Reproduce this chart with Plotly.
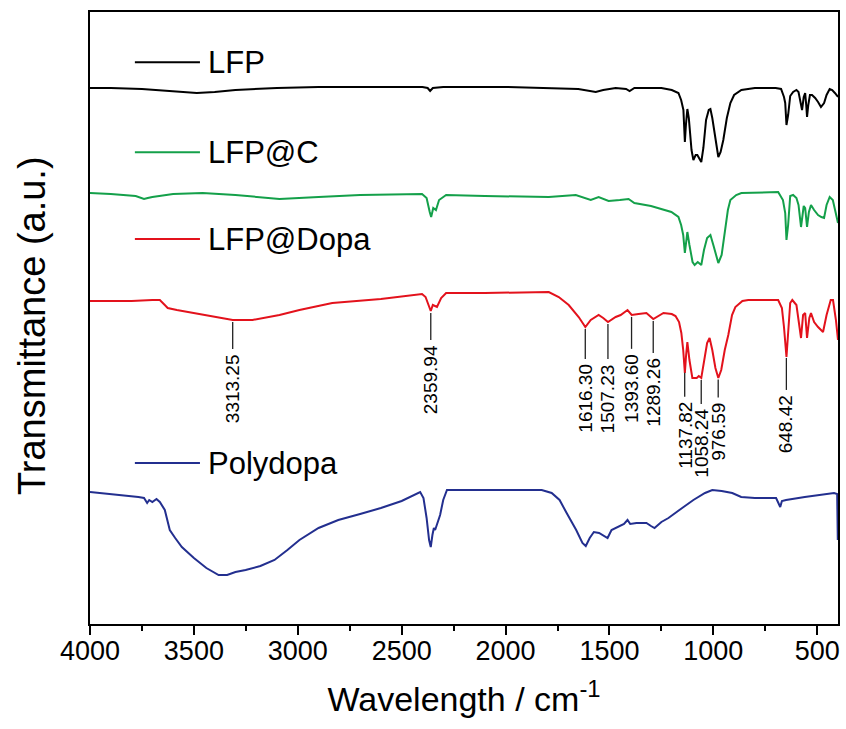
import numpy as np
import plotly.graph_objects as go

# ---------------- data ----------------
LFP_WN = [4000, 3900, 3750, 3600, 3486, 3400, 3300, 3100, 2900, 2600, 2400, 2375, 2363, 2350, 2300,
          2000, 1800, 1650, 1566, 1530, 1470, 1420, 1403, 1380, 1250, 1200, 1168, 1155, 1144, 1137,
          1132, 1125, 1118, 1105, 1096, 1085, 1077, 1065, 1058, 1048, 1035, 1022, 1014, 1005, 990,
          976, 965, 952, 935, 918, 900, 865, 800, 700, 674, 660, 654, 648, 640, 630, 616, 600, 590,
          580, 573, 565, 558, 553, 549, 543, 535, 525, 510, 496, 482, 467, 455, 440, 428, 415, 400]
LFP_T = [536, 536, 535, 533, 531, 532, 534, 536, 537, 537, 537, 536, 533, 536, 537,
         537, 536, 535, 532, 534, 536, 535, 533, 536, 536, 534, 531, 524, 514, 482,
         499, 515, 506, 474, 464, 469, 469, 464, 462, 476, 504, 514, 515, 506, 487,
         467, 472, 484, 506, 521, 529, 534, 536, 536, 535, 527, 521, 499, 509, 528, 532, 534, 532,
         519, 514, 527, 531, 519, 507, 519, 529, 529, 526, 522, 517, 521, 529, 535, 534, 531, 527]

LFPC_WN = [4000, 3900, 3780, 3740, 3722, 3700, 3600, 3458, 3300, 3088, 2900, 2700, 2402, 2380, 2365,
           2358, 2348, 2335, 2320, 2286, 2100, 1900, 1792, 1662, 1620, 1590, 1552, 1504, 1450, 1408,
           1380, 1300, 1202, 1168, 1155, 1145, 1137, 1130, 1125, 1115, 1100, 1090, 1075, 1058, 1045,
           1030, 1014, 1000, 985, 976, 960, 945, 930, 918, 890, 865, 750, 688, 665, 654, 648, 640,
           630, 616, 600, 590, 578, 565, 558, 549, 540, 530, 515, 496, 480, 467, 455, 440, 425, 410, 400]
LFPC_T = [431, 430, 428, 425, 426, 427, 430, 431, 429, 425, 427, 429, 430, 426, 412,
          407, 416, 414, 424, 429, 428, 427, 427, 429, 426, 424, 427, 423, 424, 425,
          421, 418, 412, 407, 399, 389, 371, 384, 392, 379, 362, 359, 362, 359, 374,
          386, 389, 379, 366, 361, 369, 394, 414, 424, 429, 431, 432, 432, 424, 411, 384, 399,
          428, 429, 426, 419, 397, 418, 416, 397, 412, 419, 414, 409, 407, 406, 419, 427, 424, 412, 401]

DOPA_WN = [4000, 3800, 3700, 3664, 3640, 3626, 3582, 3450, 3342, 3313, 3218, 3088, 2992, 2834, 2600,
           2402, 2385, 2370, 2360, 2350, 2330, 2310, 2286, 2100, 1900, 1792, 1744, 1696, 1648, 1616,
           1590, 1552, 1530, 1507, 1470, 1446, 1413, 1393, 1360, 1322, 1289, 1260, 1240, 1200, 1182,
           1165, 1154, 1145, 1137, 1131, 1125, 1115, 1101, 1080, 1070, 1058, 1045, 1030, 1018, 1005,
           990, 976, 962, 945, 928, 910, 894, 860, 832, 750, 688, 670, 660, 648, 640, 630, 620, 600,
           590, 578, 568, 558, 549, 538, 530, 515, 496, 482, 472, 455, 435, 424, 410, 400]
DOPA_T = [323, 323, 324, 324, 319, 316, 314, 309, 305, 304, 304, 309, 314, 321, 325,
          330, 327, 318, 313, 319, 317, 326, 331, 331, 332, 332, 327, 319, 307, 297,
          304, 309, 306, 302, 307, 309, 314, 309, 310, 311, 305, 309, 311, 310, 308,
          302, 291, 274, 251, 269, 282, 264, 246, 246, 248, 246, 264, 281, 286, 274,
          256, 246, 254, 274, 289, 309, 317, 323, 324, 324, 324, 316, 297, 267, 294, 321, 324, 319,
          304, 286, 309, 311, 286, 306, 311, 302, 297, 294, 292, 309, 324, 324, 304, 284]

PDA_WN = [4000, 3900, 3800, 3767, 3740, 3725, 3715, 3700, 3680, 3664, 3640, 3616, 3590, 3558, 3500,
          3440, 3381, 3340, 3300, 3251, 3180, 3112, 3050, 2992, 2900, 2805, 2700, 2600, 2500, 2411,
          2395, 2380, 2368, 2360, 2352, 2345, 2339, 2328, 2315, 2300, 2282, 2100, 1900, 1826, 1778,
          1740, 1706, 1660, 1630, 1614, 1595, 1575, 1550, 1509, 1490, 1460, 1430, 1413, 1400, 1370,
          1322, 1300, 1283, 1250, 1216, 1150, 1096, 1040, 1005, 960, 909, 866, 800, 698, 678, 670,
          650, 560, 480, 419, 404, 401]
PDA_T = [132, 130, 128, 127, 126, 121, 124, 122, 125, 122, 114, 94, 86, 77, 66,
         56, 49, 49, 52, 54, 58, 64, 74, 84, 96, 104, 110, 116, 123, 132,
         126, 106, 84, 77, 89, 96, 94, 102, 109, 124, 134, 134, 134, 134, 131,
         124, 111, 94, 81, 78, 86, 92, 91, 86, 94, 97, 100, 104, 100, 101,
         101, 98, 96, 102, 106, 116, 124, 131, 134, 133, 131, 127, 126, 126, 117, 123,
         124, 127, 129, 131, 130, 84]

SERIES_NAMES = ["LFP", "LFP@C", "LFP@Dopa", "Polydopa"]
PEAK_WN = [3313.25, 2359.94, 1616.30, 1507.23, 1393.60, 1289.26, 1137.82, 1058.24, 976.59, 648.42]
X_TICKS = [4000, 3500, 3000, 2500, 2000, 1500, 1000, 500]

# ---------------- styles / layout ----------------
COLORS = ["#000000", "#14a04a", "#e3121c", "#232f8f"]
LEGEND_Y = [0.918, 0.771, 0.629, 0.263]          # paper coords of the in-plot labels
LEADER_LEN = [27, 27, 30, 35, 32, 32, 24, 24, 18, 32]
FONT = "Liberation Sans, Arial, sans-serif"

series = [(LFP_WN, LFP_T), (LFPC_WN, LFPC_T), (DOPA_WN, DOPA_T), (PDA_WN, PDA_T)]

fig = go.Figure()
for (wn, t), name, col in zip(series, SERIES_NAMES, COLORS):
    fig.add_trace(go.Scatter(x=wn, y=t, mode="lines", name=name,
                             line=dict(color=col, width=2), showlegend=False))

shapes = []
annotations = []

# in-plot series labels
for name, col, ly in zip(SERIES_NAMES, COLORS, LEGEND_Y):
    shapes.append(dict(type="line", xref="paper", yref="paper", x0=0.06, x1=0.147, y0=ly, y1=ly,
                       line=dict(color=col, width=2)))
    annotations.append(dict(xref="paper", yref="paper", x=0.155, y=ly, text=name, showarrow=False,
                            xanchor="left", yanchor="middle", font=dict(family=FONT, size=31, color="black")))

# peak labels on the LFP@Dopa curve
dopa_wn_sorted = np.array(DOPA_WN[::-1], dtype=float)
dopa_t_sorted = np.array(DOPA_T[::-1], dtype=float)
for pk, ln in zip(PEAK_WN, LEADER_LEN):
    yc = float(np.interp(pk, dopa_wn_sorted, dopa_t_sorted))
    y0 = yc - 2
    y1 = y0 - ln
    shapes.append(dict(type="line", xref="x", yref="y", x0=pk, x1=pk, y0=y0, y1=y1,
                       line=dict(color="#222222", width=1.3)))
    annotations.append(dict(xref="x", yref="y", x=pk, y=y1, text=f"{pk:.2f}", showarrow=False,
                            textangle=-90, xanchor="center", yanchor="top", yshift=-3,
                            font=dict(family=FONT, size=19, color="black")))

# y-axis title
annotations.append(dict(xref="paper", yref="paper", x=0, y=0.5, xshift=-58, yshift=-8,
                        text="Transmittance (a.u.)", textangle=-90, showarrow=False,
                        xanchor="center", yanchor="middle",
                        font=dict(family=FONT, size=38, color="black")))

fig.update_layout(
    width=846, height=729,
    margin=dict(l=90, r=6, t=12, b=105),
    paper_bgcolor="white", plot_bgcolor="white",
    shapes=shapes, annotations=annotations,
    font=dict(family=FONT, color="black"),
)
fig.update_xaxes(
    range=[4000, 400], tickvals=X_TICKS, ticktext=[str(v) for v in X_TICKS],
    ticks="outside", ticklen=9, tickwidth=2, tickcolor="black",
    minor=dict(ticks="outside", ticklen=5, tickwidth=2, tickcolor="black", dtick=250, tick0=0),
    showline=True, linewidth=2, linecolor="black", mirror=True, showgrid=False, zeroline=False,
    tickfont=dict(family=FONT, size=27, color="black"),
    ticklabelstandoff=-7,
    title=dict(text="Wavelength / cm<sup>-1</sup>", standoff=22, font=dict(family=FONT, size=34, color="black")),
)
fig.update_yaxes(
    range=[0, 612], showticklabels=False, ticks="", showgrid=False, zeroline=False,
    showline=True, linewidth=2, linecolor="black", mirror=True,
)

fig.write_html("out.html", config={"displayModeBar": False},
               post_script="document.body.style.margin='0';document.body.style.padding='0';")
